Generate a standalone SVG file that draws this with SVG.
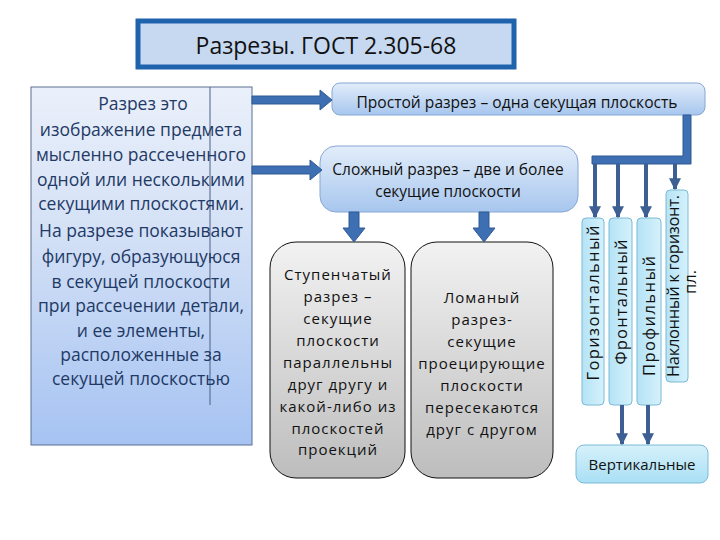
<svg xmlns="http://www.w3.org/2000/svg" width="720" height="540" viewBox="0 0 720 540">
<defs>
<linearGradient id="gLeft" x1="0" y1="0" x2="0" y2="1"><stop offset="0" stop-color="#eaf0fa"/><stop offset="0.4" stop-color="#d4e1f6"/><stop offset="1" stop-color="#a6c3f2"/></linearGradient>
<linearGradient id="gBlue" x1="0" y1="0" x2="0" y2="1"><stop offset="0" stop-color="#e2edfa"/><stop offset="1" stop-color="#a7c6ee"/></linearGradient>
<linearGradient id="gGray" x1="0" y1="0" x2="0" y2="1"><stop offset="0" stop-color="#f2f2f2"/><stop offset="1" stop-color="#bdbdbd"/></linearGradient>
<linearGradient id="gCyan" x1="0" y1="0" x2="1" y2="0"><stop offset="0" stop-color="#b4e3f6"/><stop offset="1" stop-color="#d6f1fb"/></linearGradient>
<linearGradient id="gCyanV" x1="0" y1="0" x2="0" y2="1"><stop offset="0" stop-color="#d6f1fb"/><stop offset="1" stop-color="#a9dff4"/></linearGradient>
<marker id="ah" viewBox="0 0 10 10" refX="9" refY="5" markerWidth="3" markerHeight="3" orient="auto"><path d="M0,0 L10,5 L0,10 Z" fill="#3d5f93"/></marker>
</defs>
<style>
text{font-family:"Open Sans","Noto Sans","Liberation Sans",sans-serif;text-anchor:middle}
.lt{font-size:17.5px;fill:#1f3a66}
.gt{font-size:15px;fill:#111;letter-spacing:1px}
.bt{font-size:15px;fill:#111}
.vt{font-size:16.5px;fill:#111}
.fat{fill:#3d6fb2;stroke:#2f5a95;stroke-width:1}
.ln{stroke:#3d5f93;stroke-width:4;fill:none}
.cy{fill:url(#gCyan);stroke:#7bbad6;stroke-width:1}
</style>
<rect width="720" height="540" fill="#fff"/>
<g id="title">
<rect x="138" y="21" width="376" height="46" fill="#c6d9f1" stroke="#1f63ad" stroke-width="5"/>
<text x="326" y="54" style="font-size:23px" fill="#111">Разрезы. ГОСТ 2.305-68</text>
</g>
<g id="definition">
<rect x="31" y="87" width="221" height="358" fill="url(#gLeft)" stroke="#5a6f94" stroke-width="1"/>
<line x1="210" y1="87" x2="210" y2="405" stroke="#4a6086" stroke-width="1"/>
<text class="lt" x="143" y="110">Разрез это</text>
<text class="lt" x="141" y="136">изображение предмета</text>
<text class="lt" x="141" y="161">мысленно рассеченного</text>
<text class="lt" x="141" y="186">одной или несколькими</text>
<text class="lt" x="141" y="210">секущими плоскостями.</text>
<text class="lt" x="141" y="237">На разрезе показывают</text>
<text class="lt" x="141" y="263">фигуру, образующуюся</text>
<text class="lt" x="141" y="288">в секущей плоскости</text>
<text class="lt" x="141" y="312">при рассечении детали,</text>
<text class="lt" x="141" y="337">и  ее элементы,</text>
<text class="lt" x="141" y="361">расположенные за</text>
<text class="lt" x="141" y="385">секущей плоскостью</text>
</g>
<g id="simple">
<rect x="332" y="83" width="373" height="32" rx="8" fill="url(#gBlue)" stroke="#86a8d4" stroke-width="1"/>
<text class="bt" x="517" y="108" style="font-size:15.6px">Простой разрез – одна секущая плоскость</text>
</g>
<g id="complex">
<rect x="320" y="146" width="258" height="66" rx="16" fill="url(#gBlue)" stroke="#86a8d4" stroke-width="1"/>
<text class="bt" x="448" y="175" style="font-size:15.5px">Сложный разрез – две и более</text>
<text class="bt" x="448" y="197" style="font-size:15.5px">секущие плоскости</text>
</g>
<g id="stepped">
<rect x="270" y="242" width="135" height="236" rx="26" fill="url(#gGray)" stroke="#111" stroke-width="1"/>
<text class="gt" x="338" y="280">Ступенчатый</text>
<text class="gt" x="338" y="302">разрез –</text>
<text class="gt" x="338" y="324">секущие</text>
<text class="gt" x="338" y="346">плоскости</text>
<text class="gt" x="338" y="368">параллельны</text>
<text class="gt" x="338" y="390">друг другу и</text>
<text class="gt" x="338" y="412">какой-либо из</text>
<text class="gt" x="338" y="434">плоскостей</text>
<text class="gt" x="338" y="455">проекций</text>
</g>
<g id="broken">
<rect x="411" y="242" width="142" height="236" rx="26" fill="url(#gGray)" stroke="#111" stroke-width="1"/>
<text class="gt" x="482" y="303">Ломаный</text>
<text class="gt" x="482" y="325">разрез-</text>
<text class="gt" x="482" y="347">секущие</text>
<text class="gt" x="482" y="369">проецирующие</text>
<text class="gt" x="482" y="391">плоскости</text>
<text class="gt" x="482" y="413">пересекаются</text>
<text class="gt" x="482" y="435">друг  с другом</text>
</g>
<g id="horizontal">
<rect class="cy" x="582" y="218" width="22" height="187" rx="4"/>
<text class="vt" transform="translate(599,303) rotate(-90)" textLength="155" lengthAdjust="spacing">Горизонтальный</text>
</g>
<g id="frontal">
<rect class="cy" x="609" y="218" width="23" height="187" rx="4"/>
<text class="vt" transform="translate(627,302) rotate(-90)" textLength="125" lengthAdjust="spacing">Фронтальный</text>
</g>
<g id="profile">
<rect class="cy" x="637" y="218" width="24" height="187" rx="4"/>
<text class="vt" transform="translate(655,316) rotate(-90)" textLength="120" lengthAdjust="spacing">Профильный</text>
</g>
<g id="inclined">
<rect class="cy" x="666" y="190" width="22" height="192" rx="4"/>
<text class="vt" transform="translate(679,286) rotate(-90)" textLength="182" lengthAdjust="spacing">Наклонный к горизонт.</text>
<text class="vt" transform="translate(696,282) rotate(-90)">пл.</text>
</g>
<g id="vertical">
<rect x="576" y="445" width="132" height="38" rx="8" fill="url(#gCyanV)" stroke="#7bbad6" stroke-width="1"/>
<text class="bt" x="642" y="470">Вертикальные</text>
</g>
<g id="connectors">
<path class="fat" d="M252,96 L320,96 L320,90 L332,100 L320,110 L320,104 L252,104 Z"/>
<path class="fat" d="M252,166 L310,166 L310,160 L322,170 L310,180 L310,174 L252,174 Z"/>
<path class="fat" d="M349,212 L359,212 L359,228 L365,228 L354,242 L343,228 L349,228 Z"/>
<path class="fat" d="M479,212 L489,212 L489,228 L495,228 L484,242 L473,228 L479,228 Z"/>
<path d="M683,115 L691,115 L691,164 L592,164 L592,156 L683,156 Z" fill="#3d6fb2" stroke="#2f5a95" stroke-width="1"/>
<line class="ln" x1="595" y1="164" x2="595" y2="217" marker-end="url(#ah)"/>
<line class="ln" x1="618" y1="164" x2="618" y2="217" marker-end="url(#ah)"/>
<line class="ln" x1="646" y1="164" x2="646" y2="217" marker-end="url(#ah)"/>
<line class="ln" x1="675" y1="164" x2="675" y2="189" marker-end="url(#ah)"/>
<line class="ln" x1="622" y1="405" x2="622" y2="444" marker-end="url(#ah)"/>
<line class="ln" x1="648" y1="405" x2="648" y2="444" marker-end="url(#ah)"/>
</g>
</svg>
